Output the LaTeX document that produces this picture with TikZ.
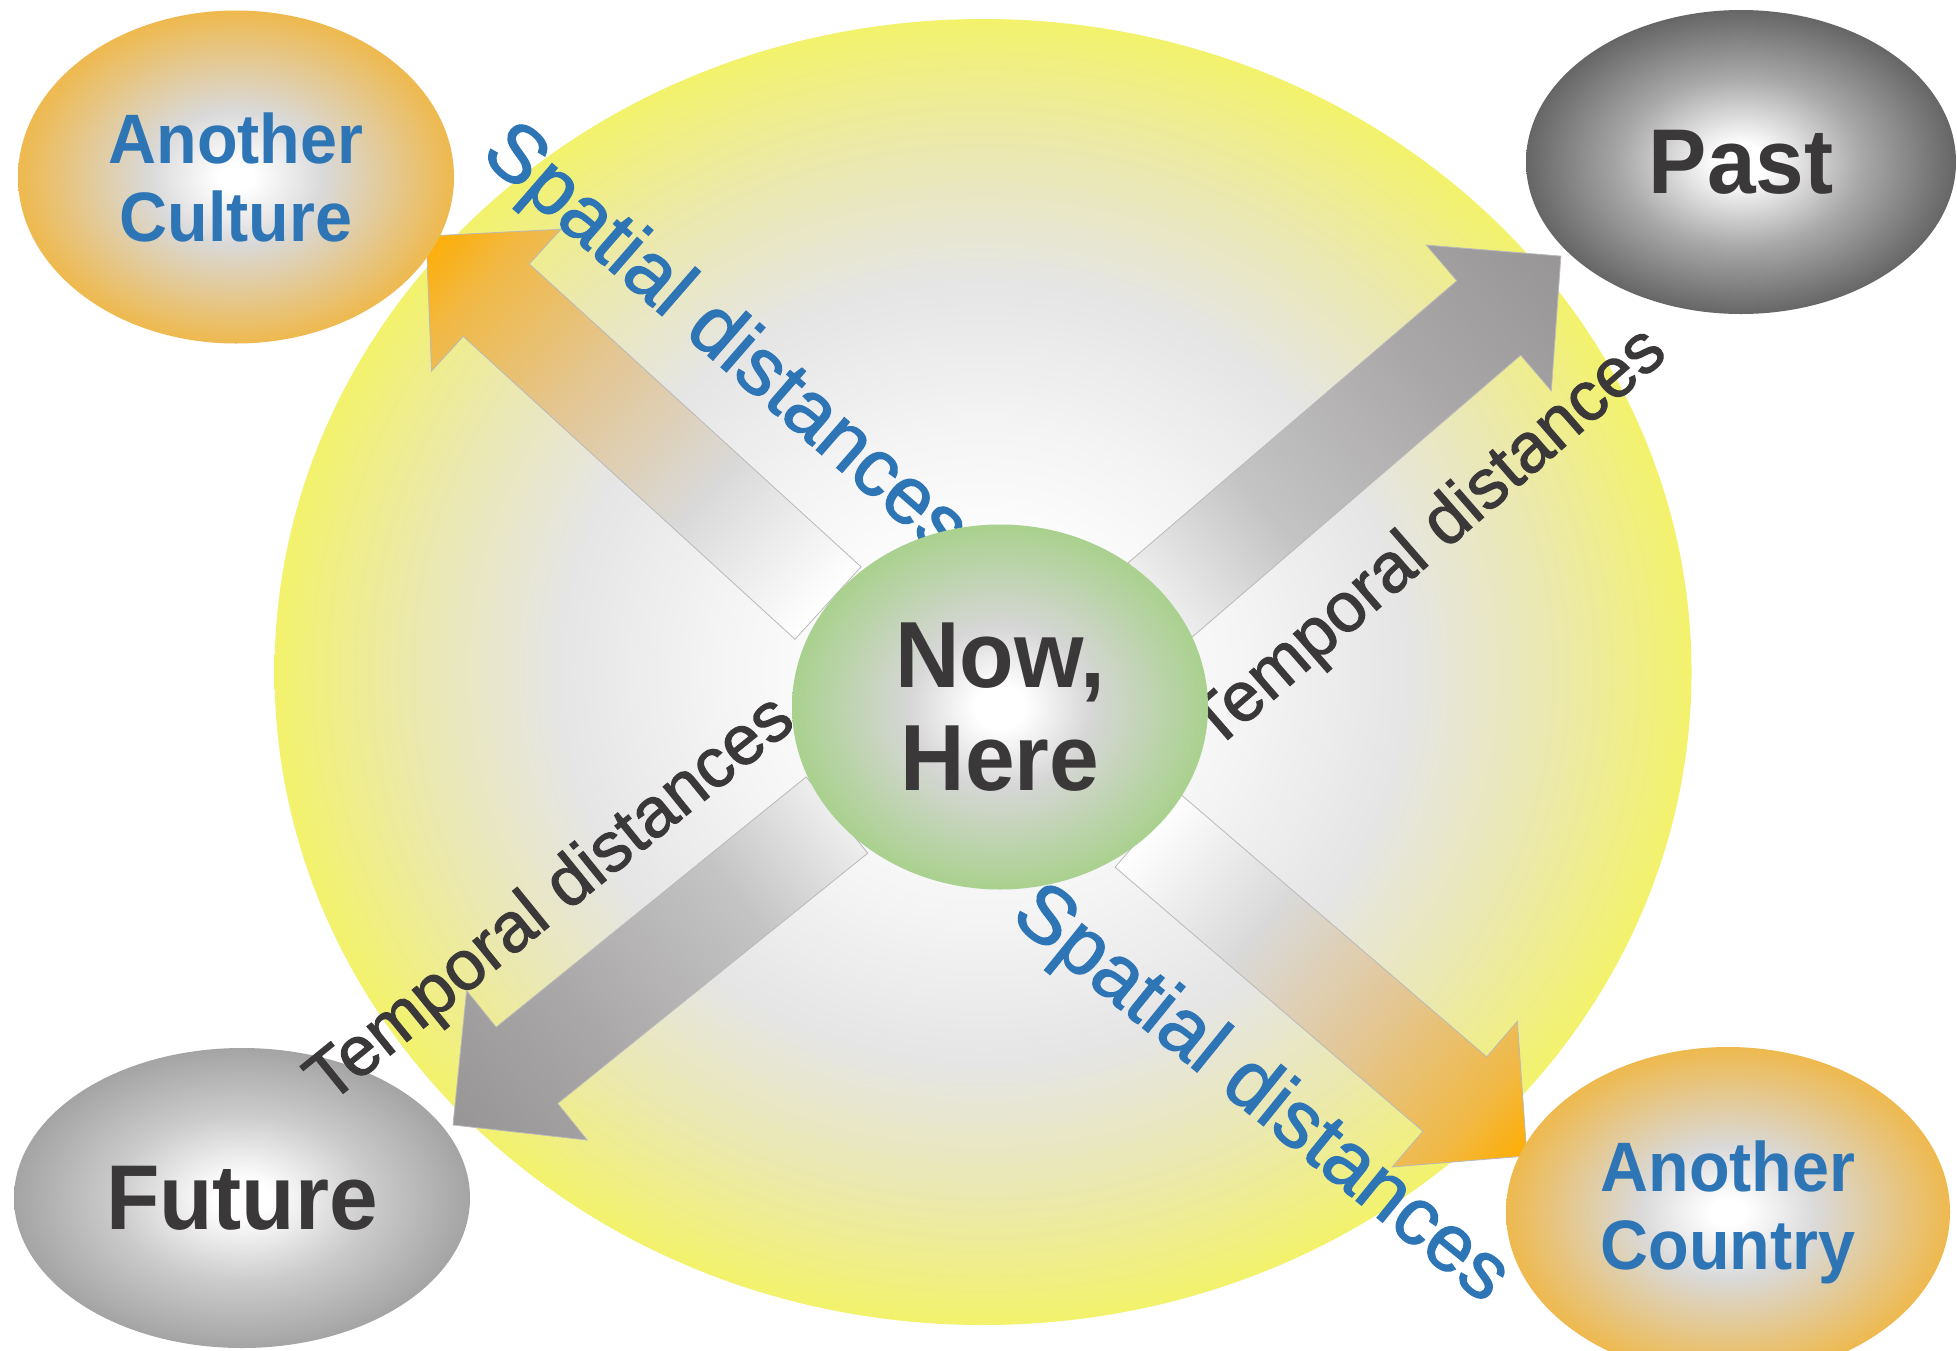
\documentclass[tikz,border=0pt]{standalone}
\usepackage{fontspec}
\setmainfont{Liberation Sans}
\newfontfamily\labfont[FakeStretch=0.95]{Liberation Sans}
\newfontfamily\rotfont[FakeBold=1.5]{Liberation Sans}
\usetikzlibrary{shapes.geometric}

\definecolor{txtblue}{HTML}{2E75B6}
\definecolor{txtdark}{HTML}{3A3838}
% big field
\definecolor{fA}{HTML}{F5F5F5}
\definecolor{fB}{HTML}{E5E5E5}
\definecolor{fC}{HTML}{EBE8B0}
\definecolor{fD}{HTML}{F2F26C}
% orange balls
\definecolor{oA}{HTML}{D9D9D9}
\definecolor{oB}{HTML}{EEB94E}
% past
\definecolor{pA}{HTML}{A8A8A8}
\definecolor{pB}{HTML}{666666}
% future
\definecolor{uA}{HTML}{CBCBCB}
\definecolor{uB}{HTML}{A4A4A4}
% green
\definecolor{gA}{HTML}{D6D6D6}
\definecolor{gB}{HTML}{A9D18E}
% arrows
\definecolor{aoA}{HTML}{D9D9D9}
\definecolor{aoB}{HTML}{E3C693}
\definecolor{aoC}{HTML}{F0B947}
\definecolor{aoD}{HTML}{FFAD00}
\definecolor{agT}{HTML}{EEEEEE}
\definecolor{agA}{HTML}{C4C4C4}
\definecolor{agB}{HTML}{AAA7A8}
\definecolor{agC}{HTML}{989596}

\pgfdeclareradialshading{fieldsh}{\pgfpoint{0bp}{0bp}}{color(0bp)=(white); color(4bp)=(white); color(9bp)=(fA); color(15bp)=(fB); color(20bp)=(fC); color(25bp)=(fD); color(50bp)=(fD)}
\pgfdeclareradialshading{orangesh}{\pgfpoint{0bp}{0bp}}{color(0bp)=(white); color(2bp)=(white); color(10bp)=(oA); color(25bp)=(oB); color(50bp)=(oB)}
\pgfdeclareradialshading{pastsh}{\pgfpoint{0bp}{0bp}}{color(0bp)=(white); color(3bp)=(white); color(14bp)=(pA); color(25bp)=(pB); color(50bp)=(pB)}
\pgfdeclareradialshading{futsh}{\pgfpoint{0bp}{0bp}}{color(0bp)=(white); color(3bp)=(white); color(14bp)=(uA); color(25bp)=(uB); color(50bp)=(uB)}
\pgfdeclareradialshading{greensh}{\pgfpoint{0bp}{0bp}}{color(0bp)=(white); color(3bp)=(white); color(11bp)=(gA); color(25bp)=(gB); color(50bp)=(gB)}
\pgfdeclarehorizontalshading{orarr}{100bp}{color(0bp)=(white); color(25bp)=(white); color(40bp)=(aoA); color(55bp)=(aoB); color(68bp)=(aoC); color(75bp)=(aoD); color(100bp)=(aoD)}
\pgfdeclarehorizontalshading{grarr}{100bp}{color(0bp)=(agT); color(25bp)=(agT); color(38bp)=(agA); color(58bp)=(agB); color(75bp)=(agC); color(100bp)=(agC)}

\newcommand\blockarrow[3]{%
  \pgfpointanchor{#1}{center}\pgfgetlastxy{\bax}{\bay}%
  \pgfpointdiff{\pgfpointanchor{#1}{center}}{\pgfpointanchor{#2}{center}}\pgfgetlastxy{\bdx}{\bdy}%
  \pgfmathsetmacro\bang{atan2(\bdy,\bdx)}%
  \pgfmathsetmacro\blen{veclen(\bdx,\bdy)}%
  \begin{scope}[transform canvas={shift={(\bax,\bay)},rotate=\bang}]
    \path[shade, shading=#3, draw=gray!55, line width=0.8pt]
      (0pt,-49pt) -- (\blen pt-95pt,-49pt) -- (\blen pt-95pt,-96pt)
      -- (\blen pt,0pt) -- (\blen pt-95pt,96pt) -- (\blen pt-95pt,49pt)
      -- (0pt,49pt) -- cycle;
  \end{scope}}

\tikzset{
  ball/.style={ellipse, inner sep=0pt, outer sep=0pt, shade, align=center},
  orangeball/.style={ball, shading=orangesh, text=txtblue,
    font=\labfont\bfseries\fontsize{70}{78}\selectfont},
  greyball/.style={ball, text=txtdark,
    font=\labfont\bfseries\fontsize{92}{100}\selectfont},
  spatial/.style={inner sep=0pt, text=txtblue, font=\rotfont\fontsize{81}{84}\selectfont},
  temporal/.style={inner sep=0pt, text=txtdark, font=\rotfont\fontsize{70}{74}\selectfont},
}

\begin{document}
\begin{tikzpicture}[x=1pt, y=-1pt]
\useasboundingbox (0,0) rectangle (1957,1350);
\fill[white] (0,0) rectangle (1957,1350);

% big field
\node[ball, shading=fieldsh, minimum width=1417pt, minimum height=1306pt] (field) at (983,672) {};

% arrow end points
\coordinate (tlA) at (828,603);  \coordinate (tlB) at (426,236);
\coordinate (trA) at (1160,600); \coordinate (trB) at (1561,256);
\coordinate (blA) at (837,815);  \coordinate (blB) at (453,1125);
\coordinate (brA) at (1147,830); \coordinate (brB) at (1527,1156);

\blockarrow{tlA}{tlB}{orarr}
\blockarrow{trA}{trB}{grarr}
\blockarrow{blA}{blB}{grarr}
\blockarrow{brA}{brB}{orarr}

% outer nodes
\node[orangeball, minimum width=436pt, minimum height=333pt] (culture) at (236,177) {Another\\Culture};
\node[greyball, shading=pastsh, minimum width=430pt, minimum height=304pt] (past) at (1741,162) {Past};
\node[greyball, shading=futsh, minimum width=456pt, minimum height=300pt] (future) at (242,1198) {Future};
\node[orangeball, minimum width=444pt, minimum height=330pt] (country) at (1728,1212) {Another\\Country};

% labels
\node[spatial, rotate=-41] (lsp1) at (724,342) {Spatial distances};
\node[spatial, rotate=-39] (lsp2) at (1260,1096) {Spatial distances};
\node[temporal, rotate=41] (ltp1) at (1430,540) {Temporal distances};
\node[temporal, rotate=39] (ltp2) at (552,901) {Temporal distances};

% centre
\node[ball, shading=greensh, minimum width=416pt, minimum height=365pt, text=txtdark,
  font=\labfont\bfseries\fontsize{94}{103}\selectfont] (now) at (1000,707) {Now,\\Here};
\end{tikzpicture}
\end{document}
